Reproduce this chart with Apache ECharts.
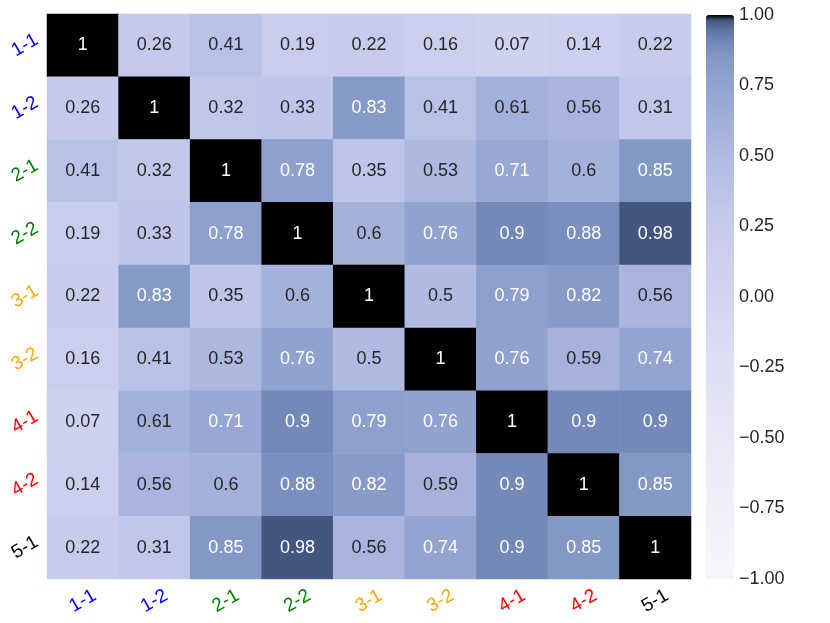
<!DOCTYPE html>
<html>
<head>
<meta charset="utf-8">
<script src="https://cdn.jsdelivr.net/npm/echarts@6/dist/echarts.min.js"></script>
<style>
  html, body { margin: 0; padding: 0; background: #fff; }
  #heatChart { width: 830px; height: 623px; }
</style>
</head>
<body>
<div id="heatChart"></div>
<script>
// categories (same for rows and columns)
const labels = ['1-1', '1-2', '2-1', '2-2', '3-1', '3-2', '4-1', '4-2', '5-1']
const labelColors = ['#0000ff', '#0000ff', '#008000', '#008000', '#ffa500', '#ffa500', '#ff0000', '#ff0000', '#000000']

// correlation matrix, one row per category
const row11 = [1, 0.26, 0.41, 0.19, 0.22, 0.16, 0.07, 0.14, 0.22]
const row12 = [0.26, 1, 0.32, 0.33, 0.83, 0.41, 0.61, 0.56, 0.31]
const row21 = [0.41, 0.32, 1, 0.78, 0.35, 0.53, 0.71, 0.6, 0.85]
const row22 = [0.19, 0.33, 0.78, 1, 0.6, 0.76, 0.9, 0.88, 0.98]
const row31 = [0.22, 0.83, 0.35, 0.6, 1, 0.5, 0.79, 0.82, 0.56]
const row32 = [0.16, 0.41, 0.53, 0.76, 0.5, 1, 0.76, 0.59, 0.74]
const row41 = [0.07, 0.61, 0.71, 0.9, 0.79, 0.76, 1, 0.9, 0.9]
const row42 = [0.14, 0.56, 0.6, 0.88, 0.82, 0.59, 0.9, 1, 0.85]
const row51 = [0.22, 0.31, 0.85, 0.98, 0.56, 0.74, 0.9, 0.85, 1]
const rows = [row11, row12, row21, row22, row31, row32, row41, row42, row51]

// colorbar ticks
const barTicks = [-1, -0.75, -0.5, -0.25, 0, 0.25, 0.5, 0.75, 1]

// colormap anchors (value -> colour), expanded into even steps for visualMap
const cmapStops = [
  [-1.00, [247, 246, 252]],
  [-0.50, [233, 232, 247]],
  [0.00, [211, 213, 240]],
  [0.25, [198, 203, 236]],
  [0.50, [176, 187, 227]],
  [0.75, [147, 163, 208]],
  [0.85, [131, 152, 197]],
  [0.90, [116, 137, 184]],
  [0.95, [94, 115, 160]],
  [0.98, [66, 86, 128]],
  [0.99, [40, 52, 80]],
  [1.00, [0, 0, 0]]
]
const cmap = []
for (let v = -1; v <= 1.0001; v += 0.005) {
  let i = 0
  while (i < cmapStops.length - 2 && v > cmapStops[i + 1][0]) i++
  const [v0, c0] = cmapStops[i]
  const [v1, c1] = cmapStops[i + 1]
  const t = Math.min(1, Math.max(0, (v - v0) / (v1 - v0)))
  const c = c0.map((x, k) => Math.round(x + (c1[k] - x) * t))
  cmap.push('rgb(' + c.join(',') + ')')
}

const cells = []
rows.forEach((row, r) => {
  row.forEach((val, c) => {
    cells.push({
      value: [c, r, val],
      label: { color: val > 0.65 ? '#ffffff' : '#262626' }
    })
  })
})

const fontFamily = 'Liberation Sans, Arial, sans-serif'
const myChart = echarts.init(document.getElementById('heatChart'))
myChart.setOption({
  animation: false,
  grid: [
    { left: 47, right: 139, top: 14, bottom: 44 },
    { left: 706, width: 28, top: 15, bottom: 44 }
  ],
  xAxis: [{
    type: 'category',
    data: labels,
    gridIndex: 0,
    axisLine: { show: false },
    axisTick: { show: false },
    splitArea: { show: false },
    axisLabel: {
      rotate: 30,
      margin: 22,
      align: 'center',
      verticalAlign: 'middle',
      fontSize: 19,
      fontFamily,
      color: (v, i) => labelColors[i]
    }
  }, {
    type: 'value',
    gridIndex: 1,
    show: false
  }],
  yAxis: [{
    type: 'category',
    data: labels,
    inverse: true,
    gridIndex: 0,
    axisLine: { show: false },
    axisTick: { show: false },
    axisLabel: {
      rotate: 30,
      margin: 22,
      align: 'center',
      verticalAlign: 'middle',
      fontSize: 19,
      fontFamily,
      color: (v, i) => labelColors[i]
    }
  }, {
    type: 'value',
    gridIndex: 1,
    position: 'right',
    min: -1,
    max: 1,
    interval: 0.25,
    axisLine: { show: false },
    axisTick: { show: false },
    splitLine: { show: false },
    axisLabel: {
      margin: 5,
      fontSize: 18,
      fontFamily,
      color: '#262626',
      formatter: v => v.toFixed(2).replace('-', '\u2212')
    }
  }],
  visualMap: {
    type: 'continuous',
    seriesIndex: 0,
    min: -1,
    max: 1,
    calculable: false,
    orient: 'vertical',
    left: 706,
    top: 15,
    padding: 0,
    itemWidth: 28,
    itemHeight: 564,
    text: ['', ''],
    showLabel: false,
    inRange: { color: cmap }
  },
  series: [{
    type: 'heatmap',
    xAxisIndex: 0,
    yAxisIndex: 0,
    data: cells,
    label: {
      show: true,
      fontSize: 18,
      fontFamily,
      formatter: p => String(p.value[2])
    },
    itemStyle: { borderWidth: 0 },
    emphasis: { disabled: true }
  }]
})
</script>
</body>
</html>
